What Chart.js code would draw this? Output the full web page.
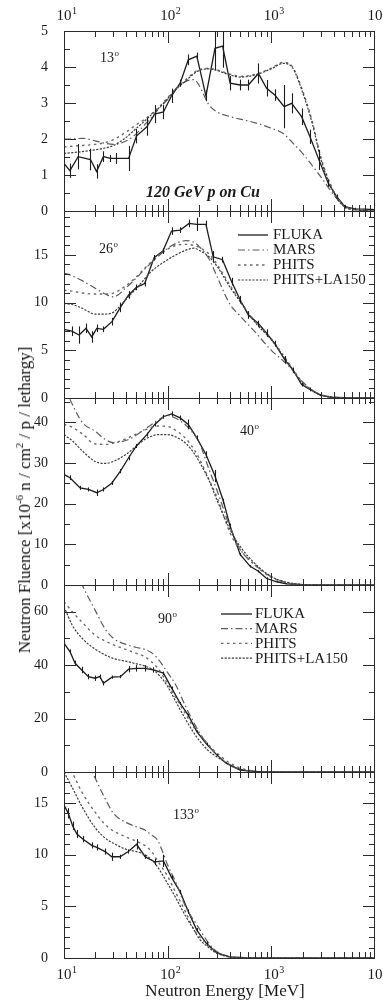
<!DOCTYPE html>
<html>
<head>
<meta charset="utf-8">
<script src="https://cdn.jsdelivr.net/npm/chart.js@4.4.1/dist/chart.umd.min.js"></script>
<style>
  body { margin:0; background:#fff; }
  #wrap { position:relative; width:383px; height:1003px; overflow:hidden; font-family:'Liberation Serif', serif; color:#1a1a1a; }
  .p { position:absolute; left:0; width:383px; }
  #ytitle { position:absolute; left:25px; top:500px; transform:translate(-50%,-50%) rotate(-90deg);
            white-space:nowrap; font-size:17px; line-height:18px; color:#111; }
  #ytitle sup { font-size:11px; line-height:0; }
</style>
</head>
<body>
<div id="wrap">
  <div class="p" style="top:0;height:229px"><canvas id="c13"></canvas></div>
  <div class="p" style="top:193px;height:223px"><canvas id="c26"></canvas></div>
  <div class="p" style="top:380px;height:223px"><canvas id="c40"></canvas></div>
  <div class="p" style="top:567px;height:223px"><canvas id="c90"></canvas></div>
  <div class="p" style="top:754px;height:249px"><canvas id="c133"></canvas></div>
  <div id="ytitle">Neutron Fluence [x10<sup>-6</sup> n / cm<sup>2</sup> / p / lethargy]</div>
</div>
<script>
// energy grid for the transport-code curves (MeV)
const energy = [10, 12, 15, 20, 25, 30, 40, 50, 60, 70, 80, 100, 120, 150, 180, 200, 250, 300, 400, 500, 700, 1000, 1300, 1600, 2000, 2500, 3000, 4000, 5000, 7000, 10000];

// 13 deg
const mars13   = [2.0, 2.0, 2.02, 1.95, 1.88, 1.85, 1.95, 2.15, 2.4, 2.6, 2.8, 3.1, 3.4, 3.6, 3.65, 3.5, 2.95, 2.75, 2.62, 2.55, 2.45, 2.3, 2.15, 1.9, 1.6, 1.25, 0.95, 0.45, 0.15, 0.02, 0];
const phits13  = [1.78, 1.8, 1.82, 1.85, 1.9, 1.98, 2.2, 2.4, 2.55, 2.7, 2.85, 3.15, 3.4, 3.65, 3.85, 3.92, 3.96, 3.92, 3.8, 3.74, 3.8, 3.97, 4.13, 4.0, 3.35, 2.45, 1.5, 0.55, 0.15, 0.03, 0];
const la150_13 = [1.6, 1.62, 1.65, 1.7, 1.75, 1.82, 2.05, 2.3, 2.5, 2.68, 2.83, 3.12, 3.38, 3.62, 3.82, 3.9, 3.95, 3.9, 3.78, 3.72, 3.78, 3.95, 4.1, 3.98, 3.3, 2.4, 1.45, 0.5, 0.13, 0.02, 0];
const fluka13E   = [10, 11.4, 13.7, 18, 20.6, 24, 28, 32, 42, 50, 63, 75, 91, 109, 132, 158, 191, 234, 286, 339, 400, 500, 600, 750, 900, 1080, 1330, 1570, 1960, 2360, 2880, 3540, 4270, 5130, 6400, 8000, 10000];
const fluka13    = [1.32, 1.12, 1.51, 1.43, 1.1, 1.51, 1.46, 1.46, 1.46, 2.08, 2.34, 2.69, 2.75, 3.2, 3.55, 4.2, 4.3, 3.2, 4.52, 4.58, 3.55, 3.5, 3.5, 3.82, 3.41, 3.22, 2.9, 2.99, 2.62, 2.06, 1.42, 0.77, 0.4, 0.12, 0.06, 0.05, 0.04];
const fluka13Err = [0.25, 0.2, 0.35, 0.3, 0.2, 0.15, 0.1, 0.15, 0.35, 0.2, 0.25, 0.25, 0.2, 0.2, 0.1, 0.15, 0.1, 0.15, 0.6, 0.6, 0.2, 0.15, 0.15, 0.28, 0.23, 0.16, 0.6, 0.28, 0.23, 0.2, 0.28, 0.1, 0.06, 0.05, 0.03, 0.03, 0.02];

// 26 deg
const mars26   = [13.1, 12.8, 12.3, 11.5, 10.9, 10.6, 11.6, 12.6, 13.5, 14.2, 14.8, 15.7, 16.2, 16.5, 16.3, 15.9, 14.6, 12.7, 9.8, 8.6, 6.9, 5.0, 3.9, 2.9, 1.7, 0.8, 0.35, 0.08, 0.02, 0, 0];
const phits26  = [11.3, 11.2, 11.0, 10.9, 10.9, 11.0, 11.8, 12.7, 13.6, 14.3, 14.9, 15.6, 16.0, 16.1, 16.0, 15.8, 15.1, 14.0, 11.8, 10.2, 8.0, 6.2, 4.5, 3.1, 1.6, 0.8, 0.35, 0.08, 0.02, 0, 0];
const la150_26 = [9.9, 9.8, 9.4, 8.8, 8.8, 9.0, 10.4, 11.5, 12.5, 13.3, 13.8, 14.5, 15.0, 15.5, 15.7, 15.5, 14.8, 13.8, 11.6, 10.1, 7.9, 6.1, 4.4, 3.0, 1.5, 0.75, 0.3, 0.07, 0.02, 0, 0];
const fluka26E   = [10, 11.9, 14, 16.3, 18.5, 20.7, 24, 29, 35, 42, 50, 60, 74, 90, 109, 132, 161, 191, 234, 275, 338, 413, 500, 600, 750, 900, 1080, 1350, 1630, 1960, 2360, 2960, 3680, 5130, 6700, 10000];
const fluka26    = [7.2, 7.0, 6.6, 7.3, 6.4, 7.3, 7.2, 8.0, 9.5, 10.8, 11.6, 12.0, 14.7, 15.4, 17.5, 17.6, 18.3, 18.2, 18.2, 14.8, 14.5, 12.2, 10.3, 8.7, 7.8, 6.8, 5.7, 4.0, 2.9, 1.4, 0.9, 0.3, 0.1, 0.03, 0.01, 0];
const fluka26Err = [0.9, 0.5, 0.9, 0.5, 0.6, 0.4, 0.3, 0.4, 0.5, 0.4, 0.3, 0.3, 0.3, 0.3, 0.4, 0.3, 0.4, 0.7, 0.4, 0.6, 0.3, 0.4, 0.4, 0.4, 0.3, 0.4, 0.3, 0.4, 0.3, 0.2, 0.2, 0.1, 0.05, 0.03, 0.02, 0];

// 40 deg
const mars40   = [49, 44.5, 40.0, 37.8, 35.8, 35.0, 35.6, 36.9, 38.3, 39.5, 40.5, 41.7, 41.0, 39.3, 37.0, 35.3, 28.5, 23.2, 14.2, 8.8, 4.9, 2.0, 0.8, 0.3, 0.1, 0.03, 0, 0, 0, 0, 0];
const phits40  = [39.5, 38.8, 37.2, 34.7, 34.6, 34.9, 36.0, 37.2, 38.1, 38.8, 39.1, 39.0, 38.0, 36.0, 33.3, 31.3, 26.0, 21.5, 12.8, 8.7, 4.8, 1.9, 0.8, 0.35, 0.12, 0.03, 0.01, 0, 0, 0, 0];
const la150_40 = [37.0, 35.5, 33.0, 30.4, 29.9, 30.4, 32.2, 34.2, 35.8, 36.6, 37.0, 37.0, 36.4, 34.8, 32.4, 30.5, 25.8, 20.8, 13.6, 9.5, 5.2, 2.1, 0.9, 0.4, 0.12, 0.03, 0.01, 0, 0, 0, 0];
const fluka40E   = [10, 11.4, 14.3, 17.2, 20.7, 24, 29, 35, 42, 50, 63, 75, 91, 109, 132, 158, 191, 234, 286, 345, 400, 500, 625, 750, 900, 1130, 1400, 1880, 2960, 10000];
const fluka40    = [27.2, 26.4, 23.9, 23.5, 22.7, 23.5, 25.1, 28.0, 31.3, 34.2, 37.0, 39.5, 41.4, 42.1, 41.1, 39.5, 36.2, 32.1, 26.8, 20.6, 14.5, 7.5, 4.6, 3.4, 1.6, 0.8, 0.3, 0.1, 0.02, 0];
const fluka40Err = [0.8, 0.6, 0.5, 0.5, 0.8, 0.5, 0.5, 0.5, 0.6, 0.5, 0.5, 0.5, 0.5, 0.6, 0.6, 1.2, 0.6, 0.8, 1.5, 0.6, 0.6, 0.4, 0.3, 0.3, 0.3, 0.2, 0.1, 0.05, 0.02, 0];

// 90 deg
const mars90   = [86, 79, 70, 60.5, 53.5, 50.0, 47.7, 46.6, 45.9, 44.6, 42.5, 37.2, 32.5, 24.3, 18.3, 15.0, 9.7, 6.3, 2.4, 1.0, 0.2, 0, 0, 0, 0, 0, 0, 0, 0, 0, 0];
const phits90  = [63.8, 60.0, 56.0, 51.2, 49.0, 47.6, 45.8, 44.4, 43.2, 41.2, 39.0, 33.0, 27.8, 21.5, 16.5, 14.5, 10.0, 7.0, 3.3, 1.5, 0.3, 0.05, 0, 0, 0, 0, 0, 0, 0, 0, 0];
const la150_90 = [61.9, 55.0, 50.0, 46.0, 43.8, 42.5, 41.4, 40.5, 39.7, 38.6, 36.8, 32.0, 26.3, 19.5, 14.5, 12.0, 7.8, 5.6, 2.6, 1.1, 0.2, 0.03, 0, 0, 0, 0, 0, 0, 0, 0, 0];
const fluka90E   = [10, 11.4, 12.8, 14.8, 17.2, 19.9, 22.2, 24, 29, 35, 42, 50, 60, 73, 91, 109, 132, 158, 191, 237, 298, 368, 500, 700, 970, 10000];
const fluka90    = [48.2, 45.1, 40.7, 38.2, 35.7, 35.1, 35.7, 33.2, 35.5, 35.7, 38.5, 38.8, 38.8, 38.2, 37.0, 31.5, 25.7, 21.3, 15.1, 10.5, 6.4, 3.3, 0.7, 0.2, 0.05, 0];
const fluka90Err = [1.0, 0.8, 1.0, 1.2, 1.0, 1.0, 0.8, 0.8, 0.6, 0.6, 1.2, 1.2, 1.2, 1.0, 0.6, 0.5, 0.5, 0.5, 0.5, 0.5, 0.4, 0.3, 0.2, 0.1, 0.05, 0];

// 133 deg
const mars133   = [24, 22, 20, 17.4, 15.4, 14.0, 13.1, 12.7, 12.4, 11.9, 11.4, 9.0, 7.3, 4.9, 3.6, 2.9, 1.4, 0.6, 0.1, 0.02, 0, 0, 0, 0, 0, 0, 0, 0, 0, 0, 0];
const phits133  = [19.8, 18.0, 16.0, 14.1, 12.9, 12.3, 11.7, 11.3, 10.9, 10.3, 9.4, 7.9, 6.3, 4.4, 2.7, 2.1, 1.2, 0.5, 0.1, 0.02, 0, 0, 0, 0, 0, 0, 0, 0, 0, 0, 0];
const la150_133 = [18.0, 16.5, 14.6, 12.6, 11.6, 11.1, 10.5, 10.3, 10.0, 9.5, 8.8, 7.2, 5.8, 4.0, 2.7, 1.9, 1.0, 0.45, 0.1, 0.02, 0, 0, 0, 0, 0, 0, 0, 0, 0, 0, 0];
const fluka133E   = [10, 11, 12.1, 13.3, 15.3, 18.5, 20.7, 24.9, 28.9, 34.7, 41.7, 50.2, 60.5, 75, 91, 109, 132, 158, 191, 237, 298, 400, 620, 10000];
const fluka133    = [14.8, 14.0, 12.8, 12.0, 11.5, 10.9, 10.7, 10.3, 9.8, 9.8, 10.3, 11.0, 9.8, 9.3, 9.4, 7.8, 6.4, 4.5, 2.7, 1.4, 0.5, 0.1, 0.02, 0];
const fluka133Err = [0.4, 0.5, 0.4, 0.4, 0.3, 0.3, 0.3, 0.3, 0.4, 0.2, 0.2, 0.5, 0.2, 0.3, 0.6, 0.2, 0.2, 0.2, 0.2, 0.2, 0.1, 0.05, 0.02, 0];

const xDecades = [10, 100, 1000, 10000];
const legendNames = ['FLUKA', 'MARS', 'PHITS', 'PHITS+LA150'];

const SERIF = "'Liberation Serif', 'Times New Roman', serif";
const INK = '#1a1a1a';

const ST = {
  fluka: { color: '#1c1c1c', width: 1.3, dash: [] },
  mars:  { color: '#5c5c5c', width: 1.2, dash: [7, 3, 1.5, 3] },
  phits: { color: '#6a6a6a', width: 1.4, dash: [2.5, 3.5] },
  la150: { color: '#3c3c3c', width: 1.2, dash: [2.2, 1.4] },
};
const legendStyles = [ST.fluka, ST.mars, ST.phits, ST.la150];

// per-panel decoration (tick spacing, labels, legend)
const decor = {};

function supText(ctx, base, sup, x, y, size, align) {
  ctx.font = `${size}px ${SERIF}`;
  const w = ctx.measureText(base).width;
  const x0 = align === 'center' ? x - w / 2 : x;
  ctx.textAlign = 'left';
  ctx.fillText(base, x0, y);
  ctx.font = `${Math.round(size * 0.65)}px ${SERIF}`;
  ctx.fillText(sup, x0 + w + 0.5, y - size * 0.42);
}

const panelDecor = {
  id: 'panelDecor',
  afterDatasetsDraw(chart) {
    const { ctx, chartArea: a, scales: { x, y } } = chart;
    ctx.save();
    ctx.beginPath(); ctx.rect(a.left, a.top, a.right - a.left, a.bottom - a.top); ctx.clip();
    ctx.strokeStyle = ST.fluka.color; ctx.lineWidth = 1.1;
    chart.data.datasets.forEach(ds => {
      if (!ds.errors) return;
      ds.data.forEach((p, i) => {
        const e = ds.errors[i];
        if (!e) return;
        const px = Math.round(x.getPixelForValue(p.x)) + 0.5;
        ctx.beginPath();
        ctx.moveTo(px, y.getPixelForValue(p.y + e));
        ctx.lineTo(px, y.getPixelForValue(p.y - e));
        ctx.stroke();
      });
    });
    ctx.restore();
  },
  afterDraw(chart) {
    const d = decor[chart.canvas.id];
    const { ctx, chartArea: a, scales: { x, y } } = chart;
    ctx.save();
    ctx.strokeStyle = '#2a2a2a'; ctx.lineWidth = 1;
    ctx.strokeRect(a.left + 0.5, a.top + 0.5, a.right - a.left - 1, a.bottom - a.top);
    const seg = (x1, y1, x2, y2) => { ctx.beginPath(); ctx.moveTo(x1, y1); ctx.lineTo(x2, y2); ctx.stroke(); };
    // inward x ticks, top and bottom
    for (const dec of [10, 100, 1000]) {
      for (let m = 1; m < 10; m++) {
        const px = Math.round(x.getPixelForValue(dec * m)) + 0.5;
        const len = m === 1 ? 12 : 6;
        seg(px, a.top, px, a.top + len);
        seg(px, a.bottom, px, a.bottom - len);
      }
    }
    // inward y ticks, left and right
    for (let k = 0; k * d.minor <= y.max + 1e-9; k++) {
      const v = k * d.minor;
      const py = Math.round(y.getPixelForValue(v)) + 0.5;
      const r = v / d.major;
      const len = Math.abs(r - Math.round(r)) < 1e-6 ? 12 : 6;
      seg(a.left, py, a.left + len, py);
      seg(a.right, py, a.right - len, py);
    }
    ctx.fillStyle = INK;
    ctx.textBaseline = 'alphabetic';
    // decade labels
    if (d.xLabels) {
      const by = d.xLabels === 'top' ? a.top - 11 : a.bottom + 21;
      xDecades.forEach(v => {
        supText(ctx, '10', String(Math.round(Math.log10(v))), x.getPixelForValue(v), by, 15, 'center');
      });
    }
    if (d.xTitle) {
      ctx.font = `17px ${SERIF}`; ctx.textAlign = 'center';
      ctx.fillText(d.xTitle, 225, a.bottom + 38);
    }
    // angle label
    supText(ctx, d.angle[0], 'o', x.getPixelForValue(d.angle[1]), y.getPixelForValue(d.angle[2]), 14, 'left');
    if (d.note) {
      ctx.font = `italic bold 16px ${SERIF}`; ctx.textAlign = 'center';
      ctx.fillText(d.note[0], x.getPixelForValue(d.note[1]), y.getPixelForValue(d.note[2]));
    }
    if (d.legend) {
      const L = d.legend;
      legendNames.forEach((name, i) => {
        const st = legendStyles[i];
        const ry = a.top + L.y0 + i * L.dy;
        ctx.strokeStyle = st.color; ctx.lineWidth = st.width; ctx.setLineDash(st.dash);
        seg(L.x0, ry, L.x1, ry);
        ctx.setLineDash([]);
        ctx.font = `15px ${SERIF}`; ctx.textAlign = 'left'; ctx.textBaseline = 'middle';
        ctx.fillText(name, L.tx, ry + 0.5);
      });
    }
    ctx.restore();
  }
};

const curve = (E, vals, st, extra) => ({
  data: E.map((e, i) => ({ x: e, y: vals[i] })),
  borderColor: st.color, borderWidth: st.width, borderDash: st.dash,
  pointRadius: 0, fill: false, ...extra
});

function panel(id, cfg) {
  decor[id] = cfg;
  new Chart(document.getElementById(id), {
    type: 'line',
    data: { datasets: [
      curve(energy, cfg.la150, ST.la150, { cubicInterpolationMode: 'monotone' }),
      curve(energy, cfg.phits, ST.phits, { cubicInterpolationMode: 'monotone' }),
      curve(energy, cfg.mars,  ST.mars,  { cubicInterpolationMode: 'monotone' }),
      curve(cfg.flukaE, cfg.fluka, ST.fluka, { tension: 0, errors: cfg.flukaErr }),
    ]},
    options: {
      responsive: true, maintainAspectRatio: false, animation: false,
      layout: { padding: { top: cfg.padTop, bottom: cfg.padBottom, left: 0, right: 8 } },
      plugins: { legend: { display: false }, tooltip: { enabled: false } },
      scales: {
        x: { type: 'logarithmic', min: 10, max: 10000, display: false },
        y: {
          min: 0, max: cfg.max,
          ticks: { stepSize: cfg.major, includeBounds: false, padding: 8, color: INK,
                   font: { family: SERIF, size: 14 } },
          grid: { display: false }, border: { display: false },
          afterFit: s => { s.width = 64; },
        },
      },
    },
    plugins: [panelDecor],
  });
}

panel('c13', { max: 5, minor: 0.5, major: 1, padTop: 31, padBottom: 18, xLabels: 'top',
  mars: mars13, phits: phits13, la150: la150_13, flukaE: fluka13E, fluka: fluka13, flukaErr: fluka13Err,
  angle: ['13', 22.2, 4.14], note: ['120 GeV p on Cu', 219, 0.39] });
panel('c26', { max: 19.6, minor: 1, major: 5, padTop: 18, padBottom: 18,
  mars: mars26, phits: phits26, la150: la150_26, flukaE: fluka26E, fluka: fluka26, flukaErr: fluka26Err,
  angle: ['26', 21.8, 15.2], legend: { x0: 238, x1: 268, tx: 273, y0: 24, dy: 15 } });
panel('c40', { max: 46, minor: 5, major: 10, padTop: 18, padBottom: 18,
  mars: mars40, phits: phits40, la150: la150_40, flukaE: fluka40E, fluka: fluka40, flukaErr: fluka40Err,
  angle: ['40', 498, 36.9] });
panel('c90', { max: 70, minor: 10, major: 20, padTop: 18, padBottom: 18,
  mars: mars90, phits: phits90, la150: la150_90, flukaE: fluka90E, fluka: fluka90, flukaErr: fluka90Err,
  angle: ['90', 80.6, 55.8], legend: { x0: 221, x1: 252, tx: 255, y0: 29, dy: 14.7 } });
panel('c133', { max: 18, minor: 1, major: 5, padTop: 18, padBottom: 45, xLabels: 'bottom',
  xTitle: 'Neutron Energy [MeV]',
  mars: mars133, phits: phits133, la150: la150_133, flukaE: fluka133E, fluka: fluka133, flukaErr: fluka133Err,
  angle: ['133', 112.5, 13.5] });
</script>
</body>
</html>
